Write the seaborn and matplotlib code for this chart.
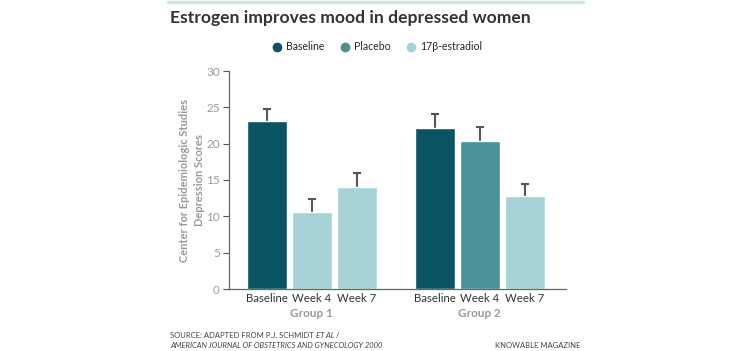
import matplotlib
matplotlib.use("Agg")
import matplotlib.pyplot as plt
import seaborn as sns
import pandas as pd

# data
bar_labels = ["Baseline", "Week 4", "Week 7", "Baseline", "Week 4", "Week 7"]
groups = ["Group 1", "Group 1", "Group 1", "Group 2", "Group 2", "Group 2"]
treatments = ["Baseline", "17β-estradiol", "17β-estradiol", "Baseline", "Placebo", "17β-estradiol"]
scores = [23.1, 10.6, 14.0, 22.1, 20.4, 12.8]
errors = [1.7, 1.8, 2.0, 2.0, 1.9, 1.7]
positions = [0, 1, 2, 3.73, 4.73, 5.73]
legend_order = ["Baseline", "Placebo", "17β-estradiol"]
colors = {"Baseline": "#0a5464", "Placebo": "#4a9299", "17β-estradiol": "#a8d3d6"}
yticks = [0, 5, 10, 15, 20, 25, 30]

df = pd.DataFrame({"pos": positions, "score": scores, "treat": treatments, "label": bar_labels})

sns.set_style("white")
plt.rcParams["font.family"] = ["Lato", "DejaVu Sans"]

fig = plt.figure(figsize=(7.5, 3.51), dpi=100)
ax = fig.add_axes([229 / 750, 1 - 289 / 351, (566 - 229) / 750, (289 - 71) / 351])

sns.barplot(data=df, x="pos", y="score", hue="treat", palette=colors, native_scale=True,
            dodge=False, width=0.89, legend=False, ax=ax, errorbar=None, saturation=1, zorder=2)
# upper-only error bars
tops = [s + e for s, e in zip(scores, errors)]
ax.vlines(positions, scores, tops, color="#555555", lw=1.5, zorder=1)
ax.plot(positions, tops, ls="", marker="_", markersize=6, mew=1.5, color="#555555", zorder=1)

ax.set_xlim(-0.84, 6.65)
ax.set_ylim(0, 30)
ax.set_yticks(yticks)
ax.set_yticklabels([str(t) for t in yticks], color="#9a9a9a", fontsize=8.5)
ax.set_xticks(positions)
ax.set_xticklabels(bar_labels, fontsize=8.2, color="#333333")
ax.tick_params(axis="x", length=0, pad=3)
ax.tick_params(axis="y", length=4, width=0.8, color="#555555", pad=2.5, left=True)
for s in ["top", "right"]:
    ax.spines[s].set_visible(False)
for s in ["left", "bottom"]:
    ax.spines[s].set_color("#666666")
    ax.spines[s].set_linewidth(0.9)
ax.set_xlabel("")
ax.set_ylabel("Center for Epidemiologic Studies\nDepression Scores", fontsize=8,
              color="#999999", fontweight="bold", linespacing=1.5, va="center")
ax.yaxis.set_label_coords(-0.11, 0.5)

# group labels
for g, xs in [("Group 1", positions[:3]), ("Group 2", positions[3:])]:
    ax.text(sum(xs) / 3, -0.112, g, transform=ax.get_xaxis_transform(), ha="center",
            va="center", fontsize=8.5, color="#999999", fontweight="bold")

# top line
fig.add_artist(plt.Line2D([168 / 750, 583 / 750], [1 - 1.5 / 351] * 2, color="#cfe6e8", lw=2.5))
fig.text(170 / 750, 1 - 18 / 351, "Estrogen improves mood in depressed women",
         fontsize=12.6, fontweight="bold", color="#333333", va="center", ha="left")

# legend
handles = [plt.Line2D([], [], marker="o", ls="", color=colors[k], markersize=6) for k in legend_order]
fig.legend(handles, legend_order, loc="center", bbox_to_anchor=(377 / 750, 1 - 47 / 351),
           ncol=3, frameon=False, fontsize=7.6, handletextpad=0.3, columnspacing=1.5,
           handlelength=1.0, borderpad=0, borderaxespad=0)

# footer
fs = 5.5
t1 = fig.text(170 / 750, 1 - 336 / 351, "SOURCE: ADAPTED FROM P.J. SCHMIDT ",
              fontsize=fs, color="#444444", va="center")
t2 = fig.add_artist(matplotlib.text.Annotation("ET AL", xy=(1, 0), xycoords=t1, va="bottom",
                    ha="left", fontsize=fs, color="#444444", style="italic",
                    annotation_clip=False))
fig.add_artist(matplotlib.text.Annotation(" /", xy=(1, 0), xycoords=t2, va="bottom",
               ha="left", fontsize=fs, color="#444444", annotation_clip=False))
fig.text(170 / 750, 1 - 346 / 351, "AMERICAN JOURNAL OF OBSTETRICS AND GYNECOLOGY 2000",
         fontsize=fs, color="#444444", va="center", style="italic")
fig.text(580 / 750, 1 - 346 / 351, "KNOWABLE MAGAZINE", fontsize=fs, color="#444444",
         va="center", ha="right")

fig.savefig("out.png", dpi=100)
